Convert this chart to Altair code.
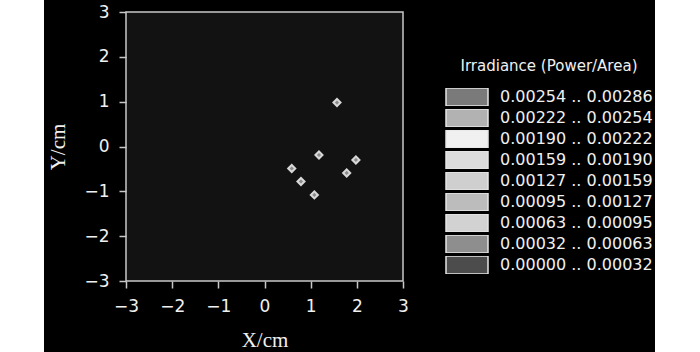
import altair as alt
import pandas as pd

# ---- data ----
point_x = [1.57, 1.18, 1.98, 0.59, 1.78, 0.79, 1.08]
point_y = [0.98, -0.19, -0.30, -0.49, -0.59, -0.78, -1.08]

band_lo = ["0.00254", "0.00222", "0.00190", "0.00159", "0.00127",
           "0.00095", "0.00063", "0.00032", "0.00000"]
band_hi = ["0.00286", "0.00254", "0.00222", "0.00190", "0.00159",
           "0.00127", "0.00095", "0.00063", "0.00032"]
band_gray = ["#7a7a7a", "#b2b2b2", "#f0f0f0", "#dcdcdc", "#cfcfcf",
             "#bcbcbc", "#d2d2d2", "#8e8e8e", "#4c4c4c"]

axis_ticks = [-3, -2.5, -2, -1.5, -1, -0.5, 0, 0.5, 1, 1.5, 2, 2.5, 3]
domain = [-3, 3]

band_labels = [f"{lo} .. {hi}" for lo, hi in zip(band_lo, band_hi)]

points = pd.DataFrame({"x": point_x, "y": point_y})
bands = pd.DataFrame({"band": band_labels, "x": [0] * len(band_labels), "y": [0] * len(band_labels)})
frame = pd.DataFrame({"x": [domain[0]], "x2": [domain[1]], "y": [domain[0]], "y2": [domain[1]]})
one = pd.DataFrame({"k": [0]})

W, H = 277, 269
PL, PT = 126, 12

FONT = "DejaVu Sans"
GRAY = "#c8c8c8"
major = "datum.value % 1 === 0"

def make_axis(title, is_x):
    return alt.Axis(
        values=axis_ticks,
        labelExpr=f"{major} ? datum.label : ''",
        tickSize={"condition": {"test": major, "value": 7}, "value": 4},
        tickColor=GRAY,
        tickWidth=1.5,
        domain=False,
        grid=False,
        labelFont=FONT,
        labelFontSize=17,
        labelColor="#f0f0f0",
        labelPadding=10 if is_x else 10,
        labelFlush=False,
        labelOverlap=False,
        title=title,
        titleFont="Liberation Serif",
        titleFontSize=21,
        titleFontWeight="normal",
        titleColor="#f0f0f0",
        titlePadding=15 if is_x else 15,
        zindex=1,
    )

xs = alt.Scale(domain=domain, nice=False, zero=False)
ys = alt.Scale(domain=domain, nice=False, zero=False)

background = alt.Chart(one).mark_rect(color="black").encode(
    x=alt.value(44 - PL), x2=alt.value(655 - PL),
    y=alt.value(-PT), y2=alt.value(352 - PT),
)

plot_area = alt.Chart(frame).mark_rect(
    fill="#121212", stroke=GRAY, strokeWidth=1.5
).encode(
    x=alt.X("x:Q", scale=xs, axis=make_axis("X/cm", True)),
    x2="x2:Q",
    y=alt.Y("y:Q", scale=ys, axis=make_axis("Y/cm", False)),
    y2="y2:Q",
)

pts = alt.Chart(points).mark_point(
    shape="diamond", filled=True, fill="#8a8a8a", stroke="#d8d8d8",
    strokeWidth=2, size=50, opacity=1
).encode(
    x=alt.X("x:Q", scale=xs),
    y=alt.Y("y:Q", scale=ys),
)

legend_layer = alt.Chart(bands).mark_square(opacity=0, size=1).encode(
    x=alt.X("x:Q", scale=xs),
    y=alt.Y("y:Q", scale=ys),
    color=alt.Color(
        "band:N",
        scale=alt.Scale(domain=band_labels, range=band_gray),
        sort=band_labels,
        legend=alt.Legend(
            title="Irradiance (Power/Area)",
            orient="none",
            legendX=445 - PL,
            legendY=47,
            symbolType="M-1,-0.43H1V0.43H-1Z",
            symbolSize=1764,
            symbolOpacity=1,
            symbolStrokeColor="#e6e6e6",
            symbolStrokeWidth=1.5,
            clipHeight=18,
            rowPadding=3,
            labelOffset=11,
            labelFont=FONT,
            labelFontSize=16,
            labelColor="#f0f0f0",
            labelLimit=300,
            titleFont=FONT,
            titleFontSize=15,
            titleFontWeight="normal",
            titleColor="#f0f0f0",
            titleAnchor="middle",
            titlePadding=14,
            titleLimit=400,
        ),
    ),
)

chart = alt.layer(background, plot_area, pts, legend_layer).properties(
    width=W, height=H,
    autosize=alt.AutoSizeParams(type="none"),
    padding={"left": PL, "top": PT, "right": 700 - PL - W, "bottom": 352 - PT - H},
    background="white",
).configure_view(stroke=None)

chart.save("out.html", embed_options={"renderer": "svg", "actions": False})
